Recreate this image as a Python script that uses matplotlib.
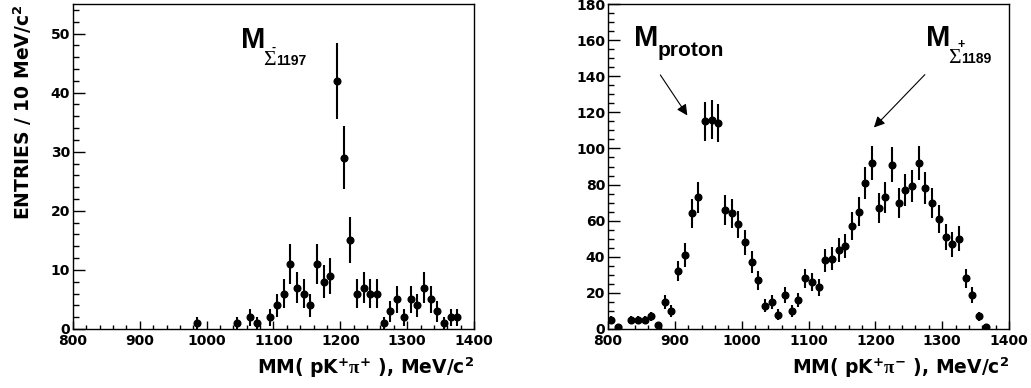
import numpy as np
import matplotlib
matplotlib.use('Agg')
import matplotlib.pyplot as plt
from matplotlib.ticker import MultipleLocator

plt.rcParams['font.family'] = ['DejaVu Sans']
plt.rcParams['font.weight'] = 'bold'
plt.rcParams['mathtext.fontset'] = 'custom'
plt.rcParams['mathtext.rm'] = 'DejaVu Sans:bold'
plt.rcParams['mathtext.bf'] = 'DejaVu Sans:bold'
plt.rcParams['mathtext.sf'] = 'DejaVu Sans:bold'
plt.rcParams['mathtext.it'] = 'Liberation Serif'

# MM(pK+pi+) spectrum, 10 MeV bins
mass_pp = [985, 1045, 1065, 1075, 1095, 1105, 1115, 1125, 1135, 1145, 1155,
           1165, 1175, 1185, 1195, 1205, 1215, 1225, 1235, 1245, 1255, 1265,
           1275, 1285, 1295, 1305, 1315, 1325, 1335, 1345, 1355, 1365, 1375]
cnt_pp = [1, 1, 2, 1, 2, 4, 6, 11, 7, 6, 4,
          11, 8, 9, 42, 29, 15, 6, 7, 6, 6, 1,
          3, 5, 2, 5, 4, 7, 5, 3, 1, 2, 2]

# MM(pK+pi-) spectrum
mass_pm = [805, 815, 835, 845, 855, 865, 875, 885, 895, 905, 915, 925, 935,
           945, 955, 965, 975, 985, 995, 1005, 1015, 1025, 1035, 1045, 1055,
           1065, 1075, 1085, 1095, 1105, 1115, 1125, 1135, 1145, 1155, 1165,
           1175, 1185, 1195, 1205, 1215, 1225, 1235, 1245, 1255, 1265, 1275,
           1285, 1295, 1305, 1315, 1325, 1335, 1345, 1355, 1365]
cnt_pm = [5, 1, 5, 5, 5, 7, 2, 15, 10, 32, 41, 64, 73,
          115, 116, 114, 66, 64, 58, 48, 37, 27, 13, 15, 8,
          19, 10, 16, 28, 26, 23, 38, 39, 44, 46, 57,
          65, 81, 92, 67, 73, 91, 70, 77, 79, 92, 78,
          70, 61, 51, 47, 50, 28, 19, 7, 1]

fig = plt.figure(figsize=(10.31, 3.88), dpi=100)
ax1 = fig.add_axes([73/1031, 1-329/388, 401/1031, 325/388])
ax2 = fig.add_axes([608/1031, 1-329/388, 401/1031, 325/388])


def style(ax, ymax, ymaj, ymin):
    ax.set_xlim(800, 1400)
    ax.set_ylim(0, ymax)
    ax.xaxis.set_major_locator(MultipleLocator(100))
    ax.xaxis.set_minor_locator(MultipleLocator(20))
    ax.yaxis.set_major_locator(MultipleLocator(ymaj))
    ax.yaxis.set_minor_locator(MultipleLocator(ymin))
    ax.tick_params(which='both', direction='in', top=False, right=False,
                   width=1.0, labelsize=10)
    ax.tick_params(axis='x', which='major', length=6, pad=3.5)
    ax.tick_params(axis='x', which='minor', length=3)
    ax.tick_params(axis='y', which='major', length=8.5, pad=2)
    ax.tick_params(axis='y', which='minor', length=4.3)
    for sp in ax.spines.values():
        sp.set_linewidth(1.0)
    for lab in ax.get_xticklabels() + ax.get_yticklabels():
        lab.set_fontweight('bold')


def draw(ax, x, y):
    y = np.array(y, dtype=float)
    ax.errorbar(x, y, yerr=np.sqrt(y), fmt='o', color='black', ms=4.8,
                elinewidth=1.5, capsize=0)


def mlabel(ax, x, y, sign, num):
    # M with a Sigma subscript, built piece by piece
    ax.text(x, y, 'M', fontsize=21, family='Liberation Sans',
            fontweight='bold', ha='left', va='baseline')
    kw = dict(xy=(x, y), xycoords='data', textcoords='offset pixels',
              va='baseline', ha='left')
    ax.annotate('\u03a3', xytext=(22, -17), fontsize=15.5,
                family='Liberation Serif', fontweight='normal', **kw)
    ax.annotate(sign, xytext=(31, -2), fontsize=9,
                family='Liberation Sans', fontweight='bold', **kw)
    ax.annotate(num, xytext=(35, -17), fontsize=10,
                family='Liberation Sans', fontweight='bold', **kw)


draw(ax1, mass_pp, cnt_pp)
style(ax1, 55, 10, 2)
ax1.set_xlabel(r'MM( pK$^{+}\pi^{+}$ ), MeV/c$^{2}$', loc='right',
               fontsize=13.5, fontweight='bold', labelpad=6)
ax1.set_ylabel(r'ENTRIES / 10 MeV/c$^{2}$', loc='top',
               fontsize=13.5, fontweight='bold', labelpad=12)
mlabel(ax1, 1051, 47.5, '-', '1197')

draw(ax2, mass_pm, cnt_pm)
style(ax2, 180, 20, 5)
ax2.set_xlabel(r'MM( pK$^{+}\pi^{-}$ ), MeV/c$^{2}$', loc='right',
               fontsize=13.5, fontweight='bold', labelpad=6)
ax2.text(839, 157, 'M', fontsize=21, family='Liberation Sans',
         fontweight='bold', ha='left', va='baseline')
ax2.annotate('proton', xy=(839, 157), textcoords='offset pixels',
             xytext=(24, -10), fontsize=15, family='Liberation Sans',
             fontweight='bold', va='baseline', ha='left')
mlabel(ax2, 1276, 157, '+', '1189')
ax2.annotate('', xy=(921, 117), xytext=(876, 142),
             arrowprops=dict(arrowstyle='-|>', color='black', lw=0.8,
                             mutation_scale=16))
ax2.annotate('', xy=(1195, 110.5), xytext=(1277, 142),
             arrowprops=dict(arrowstyle='-|>', color='black', lw=0.8,
                             mutation_scale=16))

fig.savefig('out.png', dpi=100)
